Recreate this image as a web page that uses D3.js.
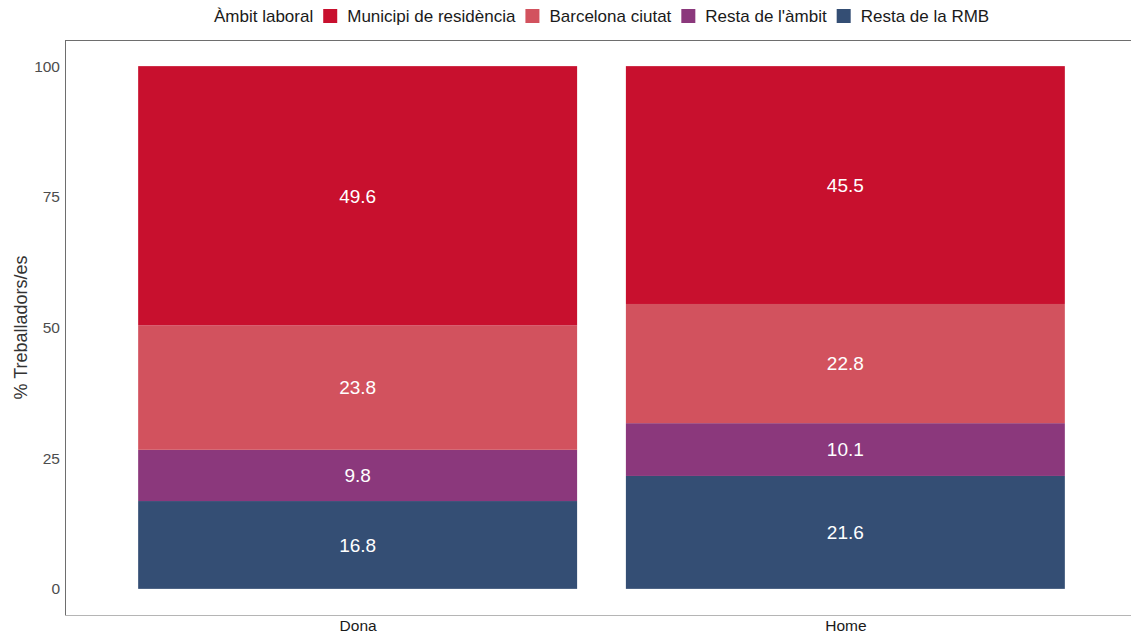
<!DOCTYPE html>
<html>
<head>
<meta charset="utf-8">
<script src="https://cdn.jsdelivr.net/npm/d3@7"></script>
<style>
  body { margin: 0; background: #fff; }
  svg { font-family: "Liberation Sans", Arial, sans-serif; }
</style>
</head>
<body>
<svg id="chart" width="1131" height="637"></svg>
<script>
const groups = ["Dona", "Home"]
const ambits = ["Resta de la RMB", "Resta de l'àmbit", "Barcelona ciutat", "Municipi de residència"]
const legendOrder = ["Municipi de residència", "Barcelona ciutat", "Resta de l'àmbit", "Resta de la RMB"]
const colors = ["#344e74", "#8b387c", "#d2525e", "#c8102e"]
// percent per ambit, one entry per group (Dona, Home)
const restaRMB = [16.8, 21.6]
const restaAmbit = [9.8, 10.1]
const barcelona = [23.8, 22.8]
const municipi = [49.6, 45.5]
const yTicks = [0, 25, 50, 75, 100]

const series = [restaRMB, restaAmbit, barcelona, municipi]

const svg = d3.select("#chart")
const margin = {left: 65, top: 40, right: -7, bottom: 22}
const W = 1131, H = 637

// continuous x like ggplot: groups at 1 and 2, limits 0.4..2.6
const x = d3.scaleLinear().domain([0.4, 2.6]).range([margin.left, W - margin.right])
const y = d3.scaleLinear().domain([-5, 105]).range([H - margin.bottom, margin.top])
const color = d3.scaleOrdinal().domain(ambits).range(colors)

// stack the data
const rows = groups.map((g, i) => {
  const r = {group: g, idx: i + 1}
  ambits.forEach((a, j) => { r[a] = series[j][i] })
  return r
})
const stacked = d3.stack().keys(ambits)(rows)

const bw = 0.45
svg.append("g").selectAll("g")
  .data(stacked)
  .join("g")
  .attr("fill", d => color(d.key))
  .selectAll("rect")
  .data(d => d)
  .join("rect")
  .attr("x", d => x(d.data.idx - bw))
  .attr("width", d => x(d.data.idx + bw) - x(d.data.idx - bw))
  .attr("y", d => y(d[1]))
  .attr("height", d => y(d[0]) - y(d[1]))

// value labels
svg.append("g").selectAll("g")
  .data(stacked)
  .join("g")
  .selectAll("text")
  .data(d => d.map(v => ({v, key: d.key})))
  .join("text")
  .attr("x", d => x(d.v.data.idx))
  .attr("y", d => y((d.v[0] + d.v[1]) / 2))
  .attr("dy", "0.36em")
  .attr("text-anchor", "middle")
  .attr("fill", "#fff")
  .style("font-size", "19px")
  .text(d => d3.format(".1f")(d.v.data[d.key]))

// panel lines
svg.append("line")
  .attr("x1", margin.left).attr("x2", W)
  .attr("y1", margin.top + 0.5).attr("y2", margin.top + 0.5)
  .attr("stroke", "#6e6e6e").attr("stroke-width", 1)
svg.append("line")
  .attr("x1", margin.left + 0.5).attr("x2", margin.left + 0.5)
  .attr("y1", margin.top).attr("y2", H - margin.bottom)
  .attr("stroke", "#6e6e6e").attr("stroke-width", 1)
svg.append("line")
  .attr("x1", margin.left).attr("x2", W)
  .attr("y1", H - margin.bottom + 0.5).attr("y2", H - margin.bottom + 0.5)
  .attr("stroke", "#b5b5b5").attr("stroke-width", 1)

// y axis
const yAxis = svg.append("g")
  .attr("transform", `translate(${margin.left},0)`)
  .call(d3.axisLeft(y).tickValues(yTicks).tickSize(0).tickPadding(5))
yAxis.select(".domain").remove()
yAxis.selectAll("text").style("font-size", "15.5px").attr("fill", "#4d4d4d")
  .style("font-family", "Liberation Sans, Arial, sans-serif")

// x axis
const xAxis = svg.append("g")
  .attr("transform", `translate(0,${H - margin.bottom})`)
  .call(d3.axisBottom(x).tickValues([1, 2]).tickFormat(d => groups[d - 1]).tickSize(0).tickPadding(5))
xAxis.select(".domain").remove()
xAxis.selectAll("text").style("font-size", "15.5px").attr("fill", "#1a1a1a")
  .style("font-family", "Liberation Sans, Arial, sans-serif")

// y title
svg.append("text")
  .attr("transform", `translate(27,${y(50)}) rotate(-90)`)
  .attr("text-anchor", "middle")
  .style("font-size", "18px")
  .attr("fill", "#333")
  .text("% Treballadors/es")

// legend
const legend = svg.append("g").attr("transform", "translate(0,16)")
let lx = 214
const title = legend.append("text").attr("x", lx).attr("dy", "0.36em")
  .style("font-size", "17px").attr("fill", "#1a1a1a").text("Àmbit laboral")
lx += title.node().getComputedTextLength() + 10
legendOrder.forEach(k => {
  legend.append("rect").attr("x", lx).attr("y", -7).attr("width", 14).attr("height", 14)
    .attr("fill", color(k))
  const t = legend.append("text").attr("x", lx + 24).attr("dy", "0.36em")
    .style("font-size", "17px").attr("fill", "#1a1a1a").text(k)
  lx += 24 + t.node().getComputedTextLength() + 10
})
</script>
</body>
</html>
